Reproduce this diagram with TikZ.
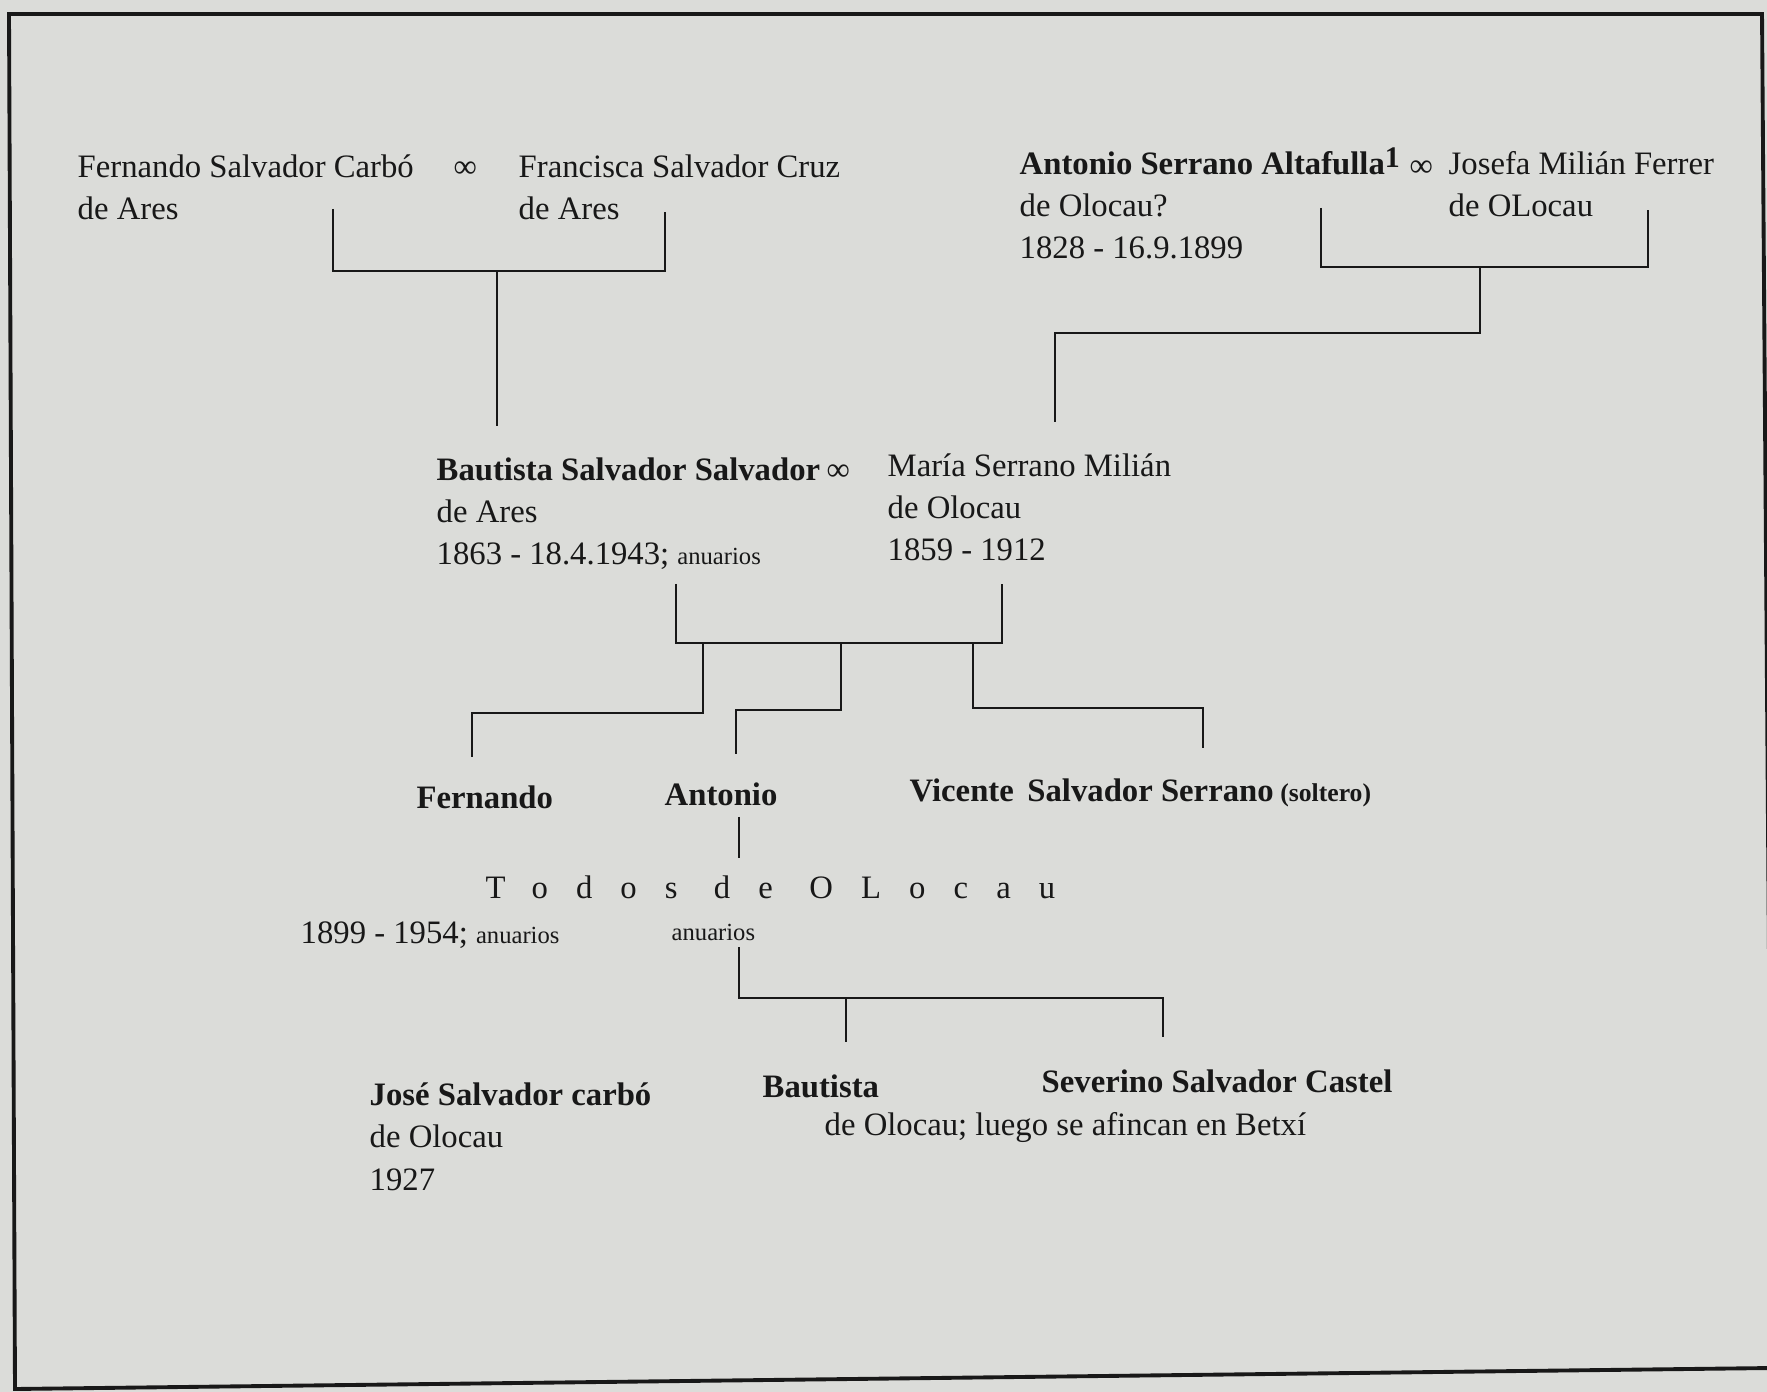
\documentclass[tikz,border=0pt]{standalone}
\usepackage{fontspec}
\setmainfont{Liberation Serif}
\usetikzlibrary{positioning}
\definecolor{paper}{RGB}{219,220,217}
\definecolor{ink}{RGB}{24,24,24}
\tikzset{
  person/.style={anchor=base west,align=left,text=ink,font=\fontsize{9.3}{12}\selectfont},
  note/.style={anchor=base west,text=ink,font=\fontsize{7}{8}\selectfont},
  link/.style={draw=ink,line width=0.8pt},
}
\newcommand{\anu}{{\fontsize{7}{8}\selectfont anuarios}}
\begin{document}
\begin{tikzpicture}[x=0.01cm,y=-0.01cm,every node/.style={inner sep=0pt}]
  \fill[paper] (0,0) rectangle (1767,1392);
  \useasboundingbox (0,0) rectangle (1767,1392);
  \draw[ink,line width=1.1pt] (9,14) -- (1762,14) -- (1772,1368) -- (15,1389) -- cycle;

  \node[person] at (77,220)  (fsc) {Fernando Salvador Carbó\\de Ares};
  \node[person] at (453,178) (m1)  {∞};
  \node[person] at (518,220) (fsz) {Francisca Salvador Cruz\\de Ares};
  \node[person] at (1019,259) (asa) {\textbf{Antonio Serrano Altafulla}\raisebox{2pt}{\fontsize{8.5}{8}\selectfont\bfseries 1}\\de Olocau?\\1828 - 16.9.1899};
  \node[person] at (1409,177) (m2) {∞};
  \node[person] at (1448,217) (jmf) {Josefa Milián Ferrer\\de OLocau};

  \node[person] at (436,565) (bss) {\textbf{Bautista Salvador Salvador}\\de Ares\\1863 - 18.4.1943; \anu};
  \node[person] at (826,481) (m3)  {∞};
  \node[person] at (887,561) (msm) {María Serrano Milián\\de Olocau\\1859 - 1912};

  \node[person] at (416,808) (fer) {\textbf{Fernando}};
  \node[person] at (664,805) (ant) {\textbf{Antonio}};
  \node[person] at (909,802) (vss) {\textbf{Vicente\, Salvador Serrano}};
  \node[note,font=\fontsize{7.3}{8}\selectfont\bfseries,right=1.5pt of vss.base east,anchor=base west] (sol) {(soltero)};
  \node[person] at (485,898) (todos) {\addfontfeatures{LetterSpace=86}Todos de OLocau};
  \node[person] at (300,943) (fdat) {1899 - 1954; \anu};
  \node[note] at (671,940) (adat) {anuarios};

  \node[person] at (369,1190) (jsc) {\textbf{José Salvador carbó}\\de Olocau\\1927};
  \node[person] at (762,1097) (bau) {\textbf{Bautista}};
  \node[person] at (1041,1092) (ssc) {\textbf{Severino Salvador Castel}};
  \node[person] at (824,1135) (olo) {de Olocau; luego se afincan en Betxí};

  \coordinate (p1a) at (333,209);  \coordinate (p1m) at (497,271);
  \coordinate (p1b) at (665,212);  \coordinate (c1)  at (497,426);
  \coordinate (p2a) at (1321,208); \coordinate (p2m) at (1480,267);
  \coordinate (p2b) at (1648,210); \coordinate (c2)  at (1055,422);
  \coordinate (p3a) at (676,584);  \coordinate (p3m) at (838,643);
  \coordinate (p3b) at (1002,584);
  \coordinate (k1) at (703,643);   \coordinate (c3a) at (472,757);
  \coordinate (k2) at (841,643);   \coordinate (c3b) at (736,754);
  \coordinate (k3) at (973,643);   \coordinate (c3c) at (1203,748);
  \coordinate (a1) at (739,817);   \coordinate (a2)  at (739,858);
  \coordinate (p4a) at (739,947);  \coordinate (p4m) at (846,998);
  \coordinate (c4a) at (846,1042); \coordinate (c4b) at (1163,1037);

  \draw[link] (p1a) |- (p1m) -| (p1b);
  \draw[link] (p1m) -- (c1);
  \draw[link] (p2a) |- (p2m) -| (p2b);
  \draw[link] (p2m) -- ++(0,66) -| (c2);
  \draw[link] (p3a) |- (p3m) -| (p3b);
  \draw[link] (k1) -- ++(0,70) -| (c3a);
  \draw[link] (k2) -- ++(0,67) -| (c3b);
  \draw[link] (k3) -- ++(0,65) -| (c3c);
  \draw[link] (a1) -- (a2);
  \draw[link] (p4a) |- (p4m) -| (c4b);
  \draw[link] (p4m) -- (c4a);
\end{tikzpicture}
\end{document}
